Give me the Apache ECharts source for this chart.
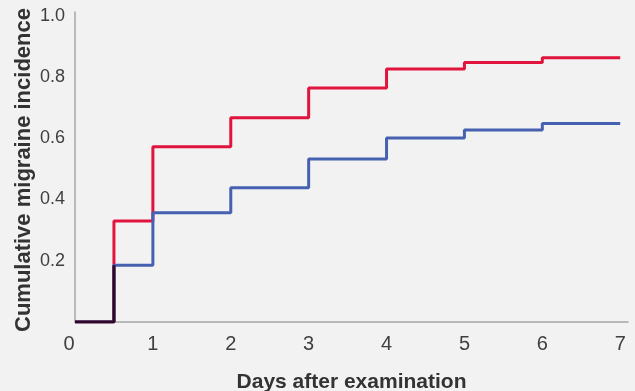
<!DOCTYPE html>
<html>
<head>
<meta charset="utf-8">
<script src="https://cdn.jsdelivr.net/npm/echarts@6/dist/echarts.min.js"></script>
<style>html,body{margin:0;padding:0;background:#f2f2f2;}#c{width:635px;height:391px;}</style>
</head>
<body>
<div id="c"></div>
<script>
var redX = [0, 0.5, 1, 2, 3, 4, 5, 6, 7];
var redY = [0, 0.33, 0.572, 0.667, 0.764, 0.826, 0.847, 0.863, 0.863];
var blueX = [0, 0.5, 1, 2, 3, 4, 5, 6, 7];
var blueY = [0, 0.185, 0.357, 0.438, 0.532, 0.601, 0.627, 0.648, 0.648];
var overlapX = [0, 0.5];
var overlapY = [0, 0.185];
var xTicks = [0, 1, 2, 3, 4, 5, 6, 7];
var yTicks = [0.2, 0.4, 0.6, 0.8, 1.0];

function pts(xs, ys) { return xs.map(function (x, i) { return [x, ys[i]]; }); }

var chart = echarts.init(document.getElementById('c'));
chart.setOption({
  backgroundColor: '#f2f2f2',
  animation: false,
  grid: { left: 75, right: 7, top: 12, bottom: 69, outerBoundsMode: 'none', containLabel: false },
  xAxis: {
    type: 'value', min: 0, max: 7.1, interval: 1,
    name: 'Days after examination', nameLocation: 'middle', nameGap: 50, nameMoveOverlap: false,
    nameTextStyle: { fontFamily: 'Liberation Sans', fontWeight: 'bold', fontSize: 21, color: '#333333' },
    axisLine: { lineStyle: { color: '#a6a6a6', width: 1.5 } },
    axisTick: { show: false },
    splitLine: { show: false },
    axisLabel: {
      fontFamily: 'Liberation Sans', fontSize: 20, color: '#404040', margin: 12,
      rich: { z: { fontFamily: 'Liberation Sans', fontSize: 20, color: '#404040', padding: [0, 12, 0, 0] } },
      formatter: function (v) {
        if (v === 0) return '{z|0}';
        return xTicks.indexOf(v) >= 0 ? String(v) : '';
      }
    }
  },
  yAxis: {
    type: 'value', min: 0, max: 1.012, interval: 0.2,
    name: 'Cumulative migraine incidence', nameLocation: 'middle', nameGap: 40, nameMoveOverlap: false,
    nameTextStyle: { fontFamily: 'Liberation Sans', fontWeight: 'bold', fontSize: 22, color: '#333333', padding: [0, 6, 0, 0] },
    axisLine: { show: true, lineStyle: { color: '#a6a6a6', width: 1.5 } },
    axisTick: { show: false },
    splitLine: { show: false },
    axisLabel: {
      fontFamily: 'Liberation Sans', fontSize: 18, color: '#404040', margin: 10,
      formatter: function (v) {
        for (var i = 0; i < yTicks.length; i++) { if (Math.abs(yTicks[i] - v) < 1e-6) return yTicks[i].toFixed(1); }
        return '';
      }
    }
  },
  series: [
    { type: 'line', step: 'end', showSymbol: false, data: pts(redX, redY), lineStyle: { color: '#e0143c', width: 3 }, z: 3 },
    { type: 'line', step: 'end', showSymbol: false, data: pts(blueX, blueY), lineStyle: { color: '#4561b0', width: 3 }, z: 4 },
    { type: 'line', step: 'end', showSymbol: false, data: pts(overlapX, overlapY), lineStyle: { color: '#2d0a2a', width: 3 }, z: 5 }
  ]
});
</script>
</body>
</html>
